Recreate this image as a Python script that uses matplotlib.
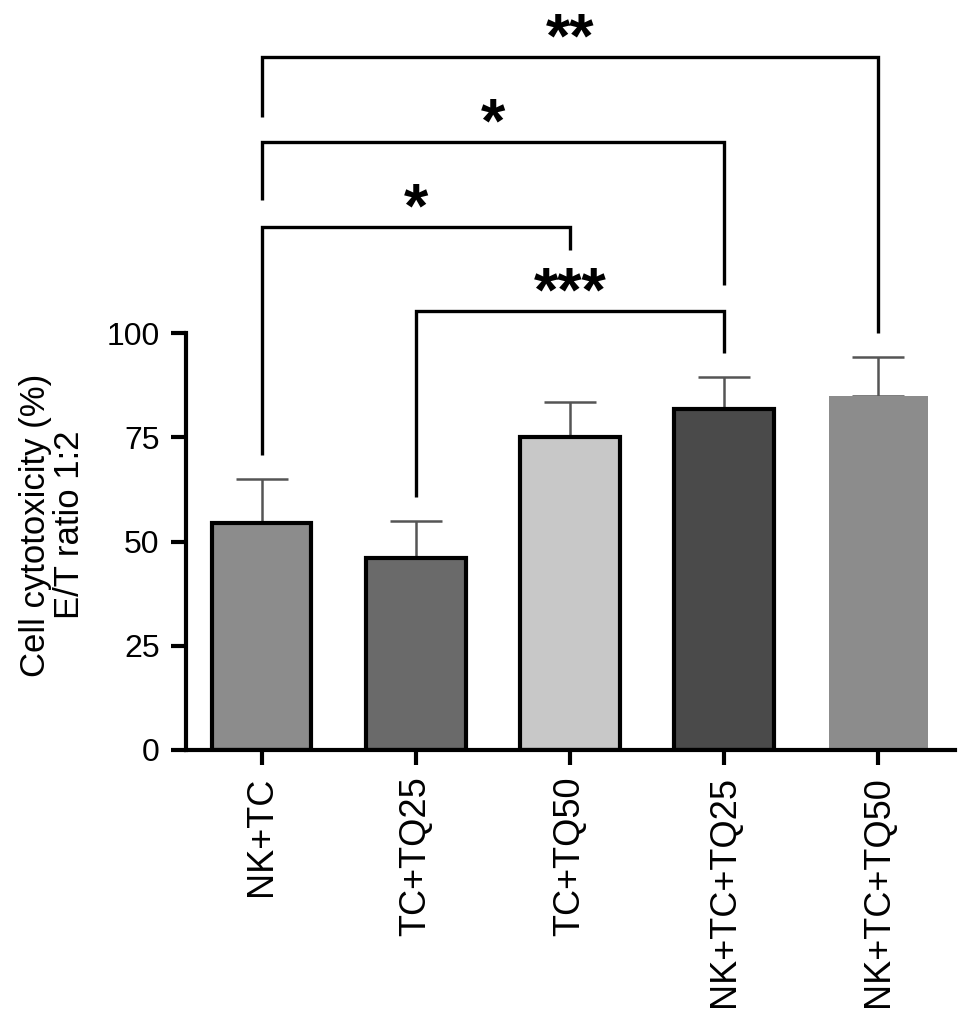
import matplotlib
matplotlib.use("Agg")
import matplotlib.pyplot as plt

plt.rcParams['font.family'] = ['Liberation Sans', 'DejaVu Sans']

categories = ["NK+TC", "TC+TQ25", "TC+TQ50", "NK+TC+TQ25", "NK+TC+TQ50"]
means = [54.5, 46.0, 75.0, 81.8, 85.0]
errors = [10.5, 9.0, 8.6, 7.6, 9.3]
colors = ["#8c8c8c", "#6a6a6a", "#c8c8c8", "#4a4a4a", "#8c8c8c"]
has_edge = [True, True, True, True, False]

# significance brackets: (left idx, right idx, line level, left leg bottom, right leg bottom, label)
br_left = [0, 0, 0, 1]
br_right = [4, 3, 2, 3]
br_level = [166.2, 145.8, 125.4, 105.3]
br_left_bottom = [151.8, 131.9, 70.7, 60.7]
br_right_bottom = [100.0, 111.5, 119.9, 95.2]
br_label = ["**", "*", "*", "***"]

fig = plt.figure(figsize=(9.69, 10.19), dpi=100)
ax = fig.add_axes([0.192, 0.264, 0.794, 0.726])

x = list(range(len(categories)))
for i in x:
    ax.bar(i, means[i], width=0.645, color=colors[i],
           edgecolor="black" if has_edge[i] else "none",
           linewidth=3.0 if has_edge[i] else 0, zorder=2)
    ax.errorbar(i, means[i], yerr=[[0], [errors[i]]], fmt="none",
                ecolor="#555555", elinewidth=1.8, capsize=19, capthick=1.8, zorder=1)

for l, r, lev, lb, rb, lab in zip(br_left, br_right, br_level, br_left_bottom, br_right_bottom, br_label):
    ax.plot([l, l, r, r], [lb, lev, lev, rb], color="black", lw=2.4,
            solid_capstyle="butt", solid_joinstyle="miter", clip_on=False, zorder=3)
    ax.text((l + r) / 2, lev + 0.2, lab, ha="center", va="baseline",
            fontsize=45, fontweight="bold", clip_on=False)

ax.set_xlim(-0.49, 4.5)
ax.set_ylim(0, 177.5)
ax.spines['top'].set_visible(False)
ax.spines['right'].set_visible(False)
ax.spines['left'].set_bounds(0, 100)
ax.spines['left'].set_linewidth(3)
ax.spines['bottom'].set_linewidth(3)
ax.set_yticks([0, 25, 50, 75, 100])
ax.set_xticks(x)
ax.set_xticklabels(categories, rotation=90, fontsize=26)
ax.tick_params(axis='both', width=3, length=11, pad=8)
ax.tick_params(axis='y', labelsize=23)
ax.tick_params(axis='x', labelsize=26)
ax.set_ylabel("Cell cytotoxicity (%)\nE/T ratio 1:2", fontsize=25,
              linespacing=1.05)
ax.yaxis.set_label_coords(-0.13, 0.304)

fig.savefig("out.png", dpi=100)
